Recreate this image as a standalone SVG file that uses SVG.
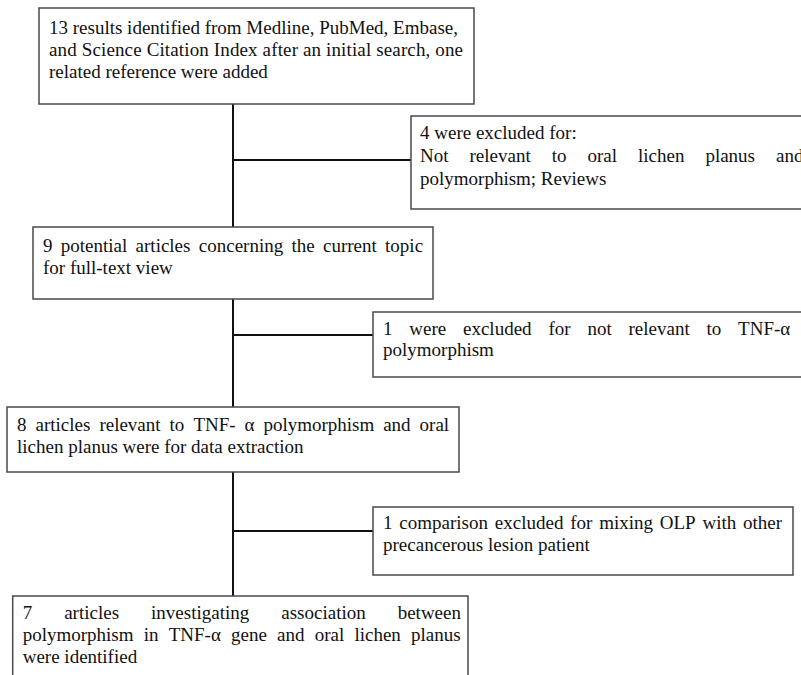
<svg xmlns="http://www.w3.org/2000/svg" width="801" height="675" viewBox="0 0 801 675">
<style>
.box{fill:#fff;stroke:#4a4a4a;stroke-width:1.5}
.t{font-family:"Liberation Serif","Times New Roman",serif;font-size:19px;fill:#111}
.c{stroke:#111;stroke-width:2;fill:none}
</style>
<rect width="801" height="675" fill="#fff"/>
<g id="connectors">
<line class="c" x1="233" y1="104" x2="233" y2="227"/>
<line class="c" x1="233" y1="160" x2="411" y2="160"/>
<line class="c" x1="233" y1="299" x2="233" y2="407"/>
<line class="c" x1="233" y1="335" x2="373" y2="335"/>
<line class="c" x1="233" y1="472" x2="233" y2="596"/>
<line class="c" x1="233" y1="531" x2="373" y2="531"/>
</g>
<g id="n1">
<rect class="box" x="39" y="8" width="435" height="96"/>
<text class="t" x="49" y="33.5">13 results identified from Medline, PubMed, Embase,</text>
<text class="t" x="49" y="55.5" textLength="414" lengthAdjust="spacing">and Science Citation Index after an initial search, one</text>
<text class="t" x="49" y="77.5">related reference were added</text>
</g>
<g id="x1">
<rect class="box" x="411" y="116" width="400" height="93"/>
<text class="t" x="420" y="138.5">4 were excluded for:</text>
<text class="t" y="161.5"><tspan x="420">Not</tspan><tspan x="469.5">relevant</tspan><tspan x="551.7">to</tspan><tspan x="587.5">oral</tspan><tspan x="638">lichen</tspan><tspan x="705.4">planus</tspan><tspan x="776">and</tspan></text>
<text class="t" x="420" y="184.5">polymorphism; Reviews</text>
</g>
<g id="n2">
<rect class="box" x="33" y="227" width="400" height="72"/>
<text class="t" y="252"><tspan x="43">9</tspan><tspan x="60.8">potential</tspan><tspan x="135.6">articles</tspan><tspan x="198.8">concerning</tspan><tspan x="291.5">the</tspan><tspan x="323">current</tspan><tspan x="385.1">topic</tspan></text>
<text class="t" x="43" y="274">for full-text view</text>
</g>
<g id="x2">
<rect class="box" x="373" y="312" width="433" height="65"/>
<text class="t" y="335"><tspan x="383">1</tspan><tspan x="409.3">were</tspan><tspan x="463">excluded</tspan><tspan x="548.4">for</tspan><tspan x="587.4">not</tspan><tspan x="628.5">relevant</tspan><tspan x="706.5">to</tspan><tspan x="738.1">TNF-α</tspan></text>
<text class="t" x="383" y="356">polymorphism</text>
</g>
<g id="n3">
<rect class="box" x="7" y="407" width="452" height="65"/>
<text class="t" y="431"><tspan x="17">8</tspan><tspan x="35.5">articles</tspan><tspan x="99.4">relevant</tspan><tspan x="169.6">to</tspan><tspan x="193.4">TNF-</tspan><tspan x="244.5">α</tspan><tspan x="263.4">polymorphism</tspan><tspan x="383.2">and</tspan><tspan x="419.6">oral</tspan></text>
<text class="t" x="17" y="453">lichen planus were for data extraction</text>
</g>
<g id="x3">
<rect class="box" x="373" y="507" width="420" height="68"/>
<text class="t" y="529"><tspan x="383">1</tspan><tspan x="399.3">comparison</tspan><tspan x="494.8">excluded</tspan><tspan x="570.2">for</tspan><tspan x="599.2">mixing</tspan><tspan x="659.8">OLP</tspan><tspan x="702.5">with</tspan><tspan x="743.1">other</tspan></text>
<text class="t" x="383" y="551">precancerous lesion patient</text>
</g>
<g id="n4">
<rect class="box" x="12.7" y="596" width="455.3" height="100"/>
<text class="t" y="619"><tspan x="22.7">7</tspan><tspan x="64.2">articles</tspan><tspan x="151.1">investigating</tspan><tspan x="281.3">association</tspan><tspan x="397.7">between</tspan></text>
<text class="t" y="641"><tspan x="22.7">polymorphism</tspan><tspan x="143.7">in</tspan><tspan x="168.7">TNF-α</tspan><tspan x="231">gene</tspan><tspan x="277.1">and</tspan><tspan x="314.7">oral</tspan><tspan x="354.4">lichen</tspan><tspan x="411">planus</tspan></text>
<text class="t" x="22.7" y="663">were identified</text>
</g>
</svg>
